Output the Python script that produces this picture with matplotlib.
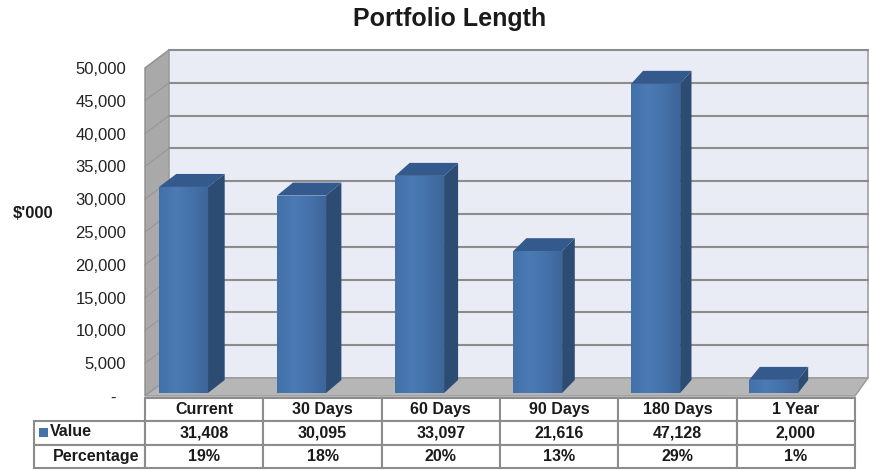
import numpy as np
import matplotlib.pyplot as plt
from matplotlib.patches import Polygon, Rectangle
from matplotlib.colors import LinearSegmentedColormap

plt.rcParams['font.family'] = ['Liberation Sans', 'DejaVu Sans']

categories = ['Current', '30 Days', '60 Days', '90 Days', '180 Days', '1 Year']
values = [31408, 30095, 33097, 21616, 47128, 2000]
y_ticks = [0, 5000, 10000, 15000, 20000, 25000, 30000, 35000, 40000, 45000, 50000]

total = sum(values)
percentages = ['{:.0f}%'.format(v / total * 100) for v in values]

W, H = 870, 470
fig = plt.figure(figsize=(W / 100, H / 100), dpi=100)

# axes box in pixels: left, top, right, bottom
L, T, R, B = 140, 46, 870, 398
ax = fig.add_axes([L / W, 1 - B / H, (R - L) / W, (B - T) / H])

cat_px = 118.33          # pixels per category on the front plane
val_px = 328 / 50000     # pixels per value unit
x0_px, y0_px = 145, 396  # where category 0 / value 0 sit on the front plane
xlim = ((L - x0_px) / cat_px, (R - x0_px) / cat_px)
ylim = ((y0_px - B) / val_px, (y0_px - T) / val_px)

# oblique depth offset of the box, plus a little perspective shrink
DX = 24 / cat_px
DY = 18 / val_px
K = 0.0155
n = len(categories)
top = y_ticks[-1]


def proj(x, v, d):
    return (x * (1 - K * d) + DX * d, v + DY * d)


grid_col = '#8c8c8c'

# side wall
ax.add_patch(Polygon([proj(0, 0, 0), proj(0, top, 0), proj(0, top, 1), proj(0, 0, 1)],
                     closed=True, facecolor='#a9a9a9', edgecolor='#8c8c8c', lw=1, zorder=1))
# back wall
ax.add_patch(Polygon([proj(0, 0, 1), proj(0, top, 1), proj(n, top, 1), proj(n, 0, 1)],
                     closed=True, facecolor='#e9ecf5', edgecolor='#a0a0a0', lw=1.2, zorder=1))
# floor
ax.add_patch(Polygon([proj(0, 0, 0), proj(n, 0, 0), proj(n, 0, 1), proj(0, 0, 1)],
                     closed=True, facecolor='#b6b6b6', edgecolor='#999999', lw=1, zorder=2))

for v in y_ticks[1:]:
    xs, ys = zip(proj(0, v, 1), proj(n, v, 1))
    ax.plot(xs, ys, color=grid_col, lw=1.5, zorder=1.5)
    xs, ys = zip(proj(0, v, 0), proj(0, v, 1))
    ax.plot(xs, ys, color='#969696', lw=0.8, zorder=1.5)

# front faces get a soft left-to-right shading
shade = LinearSegmentedColormap.from_list('shade', ['#4270a8', '#4b7ab4', '#4572aa', '#3d6699'])
ramp = np.linspace(0, 1, 64).reshape(1, -1)

# 3-D bars
d0, d1 = 0.167, 0.889
left, width = 0.085, 0.415
for i, v in enumerate(values):
    xl, xr = i + left, i + left + width
    front = [proj(xl, 0, d0), proj(xl, v, d0), proj(xr, v, d0), proj(xr, 0, d0)]
    side = [proj(xr, 0, d0), proj(xr, v, d0), proj(xr, v, d1), proj(xr, 0, d1)]
    lid = [proj(xl, v, d0), proj(xr, v, d0), proj(xr, v, d1), proj(xl, v, d1)]
    ax.add_patch(Polygon(side, closed=True, facecolor='#2d4c74', edgecolor='none', zorder=3 + i))
    ax.add_patch(Polygon(lid, closed=True, facecolor='#34598c', edgecolor='none', zorder=3 + i))
    face = Polygon(front, closed=True, facecolor='#4673aa', edgecolor='none', zorder=3 + i)
    ax.add_patch(face)
    (fx0, fy0), (fx1, fy1) = front[0], front[2]
    im = ax.imshow(ramp, cmap=shade, extent=(fx0, fx1, fy0, fy1), aspect='auto',
                   interpolation='bilinear', zorder=3 + i + 0.1)
    im.set_clip_path(face)

ax.set_xlim(*xlim)
ax.set_ylim(*ylim)

ax.set_yticks(y_ticks)
ax.set_yticklabels(['-  '] + ['{:,}'.format(t) for t in y_ticks[1:]], fontsize=12, color='#222222')
ax.tick_params(axis='y', length=0, pad=10)
ax.set_xticks([])
for s in ax.spines.values():
    s.set_visible(False)
ax.patch.set_visible(False)

# data table under the chart
cell_text = [[''] + categories,
             [''] + ['{:,}'.format(v) for v in values],
             [''] + percentages]
tbl = ax.table(cellText=cell_text, colWidths=[111] + [cat_px] * n, cellLoc='center',
               bbox=[(34 - L) / (R - L), -(468 - B) / (B - T), (855 - 34) / (R - L), (468 - B) / (B - T)])
tbl.auto_set_font_size(False)
tbl.set_fontsize(11.5)
for (r, c), cell in tbl.get_celld().items():
    cell.set_edgecolor('#8c8c8c')
    cell.set_linewidth(1.5)
    cell.get_text().set_fontweight('bold')
    cell.get_text().set_color('#1a1a1a')
    if r == 0 and c == 0:
        cell.visible_edges = 'open'

fig.add_artist(Rectangle((39 / W, 1 - 437 / H), 9 / W, 9 / H, transform=fig.transFigure,
                         facecolor='#4673aa', edgecolor='none'))
fig.text(50 / W, 1 - 432 / H, 'Value', ha='left', va='center', fontsize=11.5,
         fontweight='bold', color='#1a1a1a')
fig.text(139 / W, 1 - 456 / H, 'Percentage', ha='right', va='center', fontsize=11.5,
         fontweight='bold', color='#1a1a1a')

fig.text(33 / W, 1 - 213 / H, "$'000", ha='center', va='center', fontsize=12,
         fontweight='bold', color='#1a1a1a')
fig.text(450 / W, 1 - 19 / H, 'Portfolio Length', ha='center', va='center', fontsize=18,
         fontweight='bold', color='#1a1a1a')

fig.savefig('out.png', dpi=100)
